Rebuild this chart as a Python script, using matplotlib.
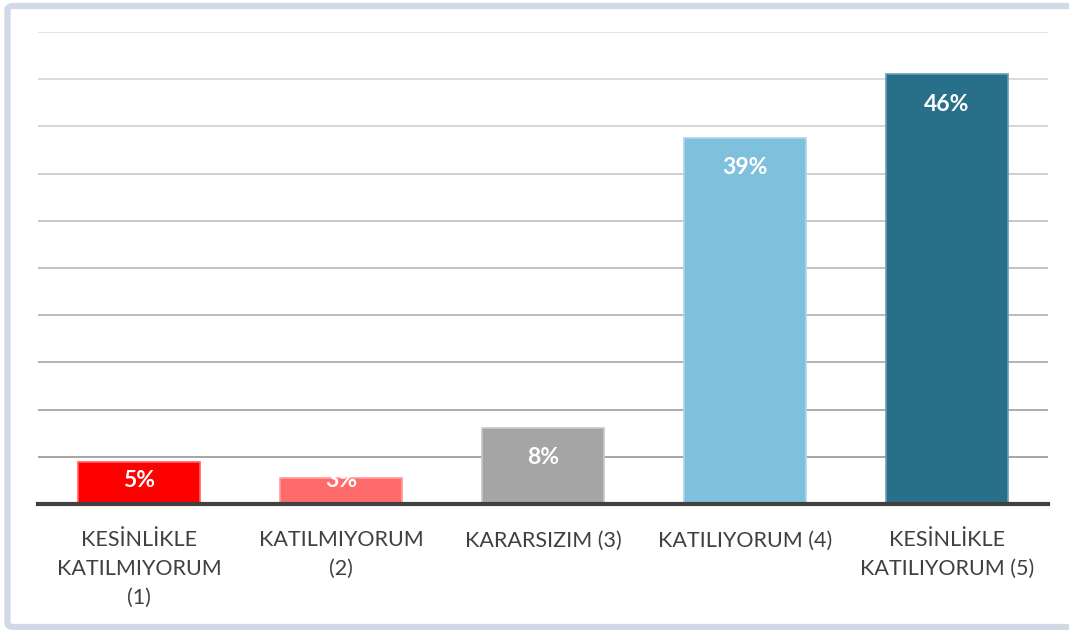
import numpy as np
import matplotlib.pyplot as plt
from matplotlib.patches import FancyBboxPatch

categories = ['KESİNLİKLE\nKATILMIYORUM\n(1)', 'KATILMIYORUM\n(2)', 'KARARSIZIM (3)',
              'KATILIYORUM (4)', 'KESİNLİKLE\nKATILIYORUM (5)']
values = [4.4, 2.8, 8.1, 38.8, 45.5]
labels = ['5%', '3%', '8%', '39%', '46%']
colors = ['#FF0000', '#FF6B6B', '#A5A5A5', '#7FC0DC', '#286F8A']
edges = ['#FF6060', '#FF9A9A', '#C8C8C8', '#A8D6EA', '#6A9DB3']

W, H = 1069, 630
fig = plt.figure(figsize=(W / 100, H / 100), dpi=100)
fig.patch.set_facecolor('white')

# frame around the chart (right side runs off the picture)
frame = FancyBboxPatch((7.5 / W, 3 / H), (W + 30) / W, 621 / H,
                       boxstyle='round,pad=0,rounding_size=0.006',
                       transform=fig.transFigure, facecolor='none',
                       edgecolor='#D0DAE6', linewidth=4.5, zorder=0)
fig.patches.append(frame)

ax = fig.add_axes([38 / W, (H - 504) / H, (1048 - 38) / W, (504 - 32) / H])
x = np.arange(len(categories))
ax.bar(x, values, width=0.6, color=colors, edgecolor=edges, linewidth=1.2, zorder=2)

ax.set_xlim(-0.5, len(categories) - 0.5)
ax.set_ylim(0, 50)

# gridlines get lighter towards the top
for i, g in enumerate(range(5, 55, 5)):
    c = 0.62 + (0.88 - 0.62) * (i / 9)
    ax.axhline(g, color=(c, c, c), linewidth=1.3, zorder=1)

for xi, v, lab in zip(x, values, labels):
    ax.text(xi, max(v - 3.2, 2.5), lab, ha='center', va='center', color='white',
            fontsize=16.5, fontweight='bold', family='Lato', zorder=3)

for s in ['top', 'right', 'left']:
    ax.spines[s].set_visible(False)
ax.spines['bottom'].set_color('#404040')
ax.spines['bottom'].set_linewidth(3)
ax.spines['bottom'].set_zorder(4)
ax.set_yticks([])
ax.set_xticks(x)
ax.set_xticklabels(categories, fontsize=15.5, color='#404040', family='Lato',
                   linespacing=1.55, va='top')
ax.tick_params(axis='x', length=0, pad=19)

fig.savefig('out.png', dpi=100, facecolor='white')
